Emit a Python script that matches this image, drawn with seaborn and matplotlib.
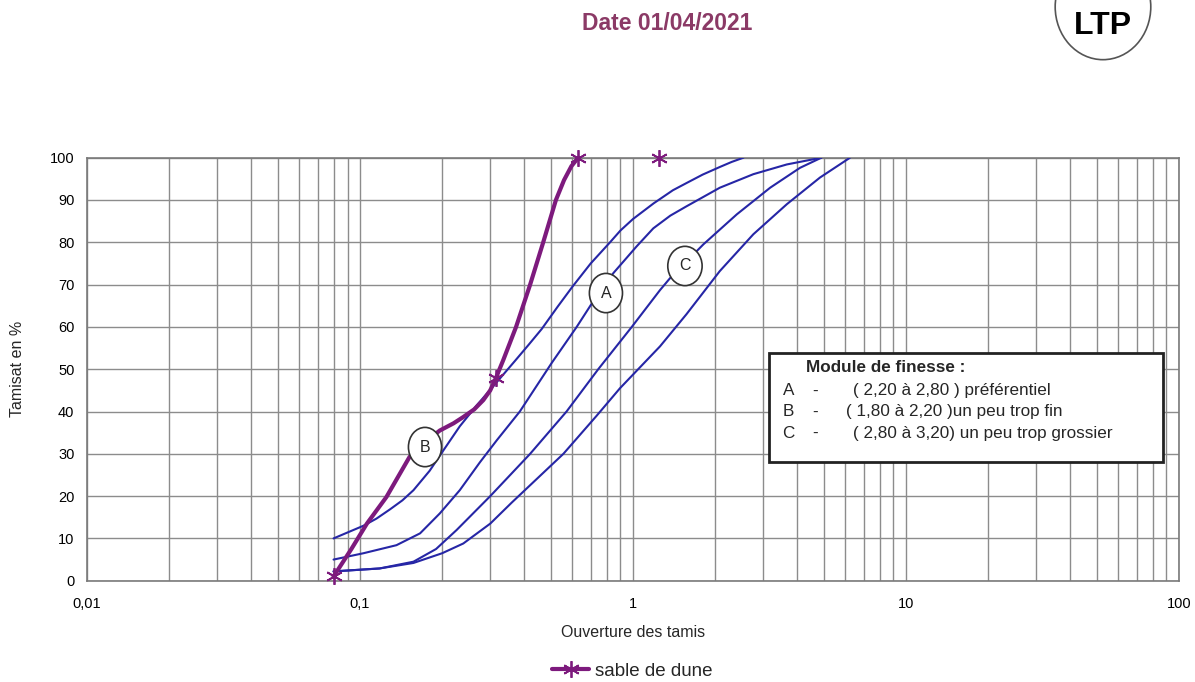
import matplotlib
matplotlib.use("Agg")
import pandas as pd
import matplotlib.pyplot as plt
import seaborn as sns
from matplotlib.lines import Line2D
from matplotlib.patches import Ellipse, Rectangle
from matplotlib.ticker import FixedLocator, NullFormatter

# sable de dune : points aux tamis + trace
tamis_sable = [0.08, 0.315, 0.63, 1.25]
passant_sable = [1, 48, 100, 100]
sable_x = [0.08, 0.093, 0.106, 0.125, 0.152, 0.175, 0.196, 0.22, 0.239, 0.262, 0.283, 0.3,
           0.315, 0.335, 0.373, 0.42, 0.469, 0.522, 0.559, 0.595, 0.63]
sable_y = [1, 7.5, 13.5, 19.8, 29.3, 33.0, 35.5, 37.2, 38.7, 40.5, 42.7, 45,
           48, 52.2, 60, 70, 80, 90, 94.7, 98, 100]

# limites des fuseaux (courbes bleues)
courbe1_x = [0.08, 0.09, 0.103, 0.115, 0.129, 0.143, 0.157, 0.18, 0.202, 0.232, 0.268, 0.308,
             0.37, 0.415, 0.463, 0.53, 0.6, 0.7, 0.824, 0.9, 1.0, 1.19, 1.4, 1.57, 1.8, 2.08, 2.3, 2.54]
courbe1_y = [10, 11.4, 13, 14.7, 16.9, 19, 21.4, 26, 30.8, 36.5, 41.5, 46,
             52, 55.8, 59.5, 64.8, 69.5, 75, 80, 82.8, 85.5, 89.2, 92.3, 94, 96, 97.8, 99, 100]

courbe2_x = [0.08, 0.103, 0.136, 0.166, 0.196, 0.232, 0.275, 0.317, 0.385, 0.504, 0.622,
             0.706, 0.847, 1.03, 1.187, 1.37, 1.57, 2.08, 2.76, 3.66, 4.9]
courbe2_y = [5, 6.5, 8.4, 11.2, 15.9, 21.4, 28, 33.2, 40, 51.5, 60,
             65.5, 72.7, 79, 83.3, 86.3, 88.5, 92.9, 96.1, 98.4, 100]

courbe3_x = [0.08, 0.118, 0.157, 0.19, 0.226, 0.3, 0.355, 0.42, 0.571, 0.746, 0.99,
             1.256, 1.366, 1.81, 2.4, 3.18, 4.09, 4.9]
courbe3_y = [2.2, 2.9, 4.5, 7.5, 12, 20, 25, 30, 40, 50, 60,
             68.7, 71.5, 79.5, 86.6, 92.9, 97.6, 100]

courbe4_x = [0.08, 0.118, 0.157, 0.2, 0.239, 0.3, 0.36, 0.556, 0.736, 0.896, 1.256, 1.57,
             2.08, 2.76, 3.66, 4.84, 6.24]
courbe4_y = [2.2, 2.9, 4.2, 6.5, 8.8, 13.5, 18.5, 30, 39, 45.5, 55.4, 63,
             73.2, 81.9, 89, 95.3, 100]

x_ticks = [0.01, 0.1, 1, 10, 100]
x_labels = ["0,01", "0,1", "1", "10", "100"]
y_ticks = list(range(0, 101, 10))

violet = "#7d1a7d"
bleu = "#2626a6"

sns.set_theme(style="white")
plt.rcParams["font.family"] = ["Liberation Sans", "DejaVu Sans"]

fig = plt.figure(figsize=(11.95, 6.82), dpi=100)
ax = fig.add_axes([0.0728, 0.1485, 0.9138, 0.6203])

for cx, cy in [(courbe1_x, courbe1_y), (courbe2_x, courbe2_y),
               (courbe3_x, courbe3_y), (courbe4_x, courbe4_y)]:
    d = pd.DataFrame({"ouverture": cx, "tamisat": cy})
    sns.lineplot(data=d, x="ouverture", y="tamisat", ax=ax, color=bleu,
                 linewidth=1.5, sort=False, estimator=None, zorder=3)

sable = pd.DataFrame({"ouverture": sable_x, "tamisat": sable_y})
sns.lineplot(data=sable, x="ouverture", y="tamisat", ax=ax, color=violet,
             linewidth=3, sort=False, estimator=None, zorder=4)
ax.plot(tamis_sable, passant_sable, linestyle="", marker=(6, 2, 0),
        markersize=12, markeredgewidth=1.3, color=violet, zorder=5, clip_on=False)

ax.set_xscale("log")
ax.set_xlim(0.01, 100)
ax.set_ylim(0, 100)
ax.xaxis.set_major_locator(FixedLocator(x_ticks))
ax.set_xticklabels(x_labels)
minor = [m * 10.0 ** e for e in range(-2, 2) for m in range(2, 10)]
ax.xaxis.set_minor_locator(FixedLocator(minor))
ax.xaxis.set_minor_formatter(NullFormatter())
ax.set_yticks(y_ticks)
ax.grid(which="both", axis="x", color="#8c8c8c", linewidth=1)
ax.grid(which="major", axis="y", color="#8c8c8c", linewidth=1)
ax.set_axisbelow(True)
ax.tick_params(axis="both", which="both", length=0, labelsize=10.5, colors="black")
ax.tick_params(axis="x", pad=12)
ax.tick_params(axis="y", pad=9)
for s in ax.spines.values():
    s.set_color("#7a7a7a")
    s.set_linewidth(1.2)

ax.set_xlabel("Ouverture des tamis", fontsize=11.5, labelpad=10)
ax.set_ylabel("Tamisat en %", fontsize=11.5, labelpad=18)

# etiquettes des fuseaux
for lettre, lx, ly in [("A", 0.796, 68), ("B", 0.173, 31.6), ("C", 1.55, 74.4)]:
    ax.text(lx, ly, lettre, ha="center", va="center", fontsize=11.5, zorder=6,
            bbox=dict(boxstyle="ellipse,pad=0.4", fc="white", ec="#333333", lw=1.2))

# cadre module de finesse
ax.add_patch(Rectangle((0.6245, 0.2806), 0.3608, 0.2577, transform=ax.transAxes,
                       fc="white", ec="#222222", lw=2, zorder=7))
ax.text(0.658, 0.503, "Module de finesse :", transform=ax.transAxes, fontsize=12.3,
        fontweight="bold", va="center", zorder=8)
lignes = [("A", "( 2,20 à 2,80 ) préférentiel", 0.4485, 0.7015),
          ("B", "( 1,80 à 2,20 )un peu trop fin", 0.399, 0.6951),
          ("C", "( 2,80 à 3,20) un peu trop grossier", 0.349, 0.7015)]
for lettre, txt, ty, tx in lignes:
    ax.text(0.637, ty, lettre, transform=ax.transAxes, fontsize=12.3, va="center", zorder=8)
    ax.text(0.664, ty, "-", transform=ax.transAxes, fontsize=12.3, va="center", zorder=8)
    ax.text(tx, ty, txt, transform=ax.transAxes, fontsize=12.3, va="center", zorder=8)

fig.text(0.558, 0.965, "Date 01/04/2021", ha="center", va="center", fontsize=16.5,
         fontweight="bold", color="#8b3a66")

# logo
fig.add_artist(Ellipse((0.923, 0.99), 0.08, 0.155, transform=fig.transFigure,
                       fill=False, ec="#555555", lw=1.2))
fig.text(0.923, 0.962, "LTP", ha="center", va="center", fontsize=23,
         fontweight="bold", color="black")

poignee = Line2D([], [], color=violet, linewidth=3, marker=(6, 2, 0),
                 markersize=12, markeredgewidth=1.3)
fig.legend(handles=[poignee], labels=["sable de dune"], loc="center",
           bbox_to_anchor=(0.529, 0.016), frameon=False, fontsize=13.5,
           handlelength=2.0, handletextpad=0.3, borderpad=0)

fig.savefig("out.png", dpi=100)
